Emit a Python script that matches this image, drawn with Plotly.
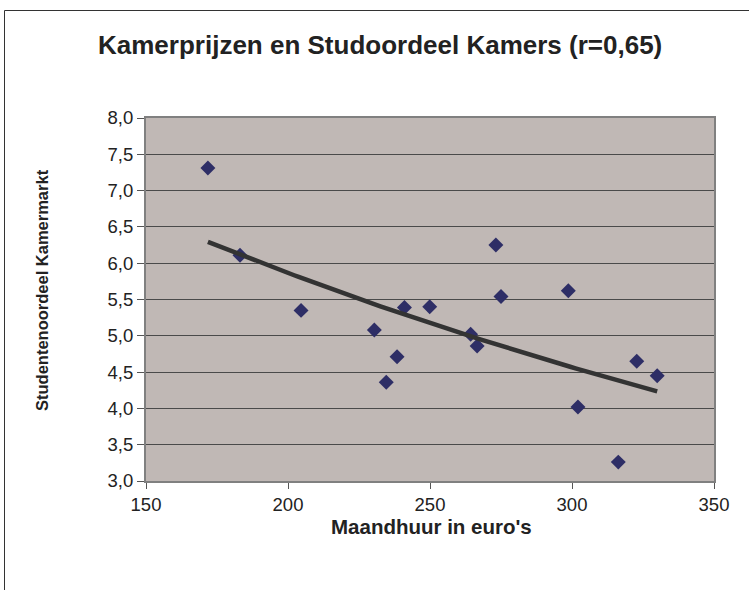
import numpy as np
import plotly.graph_objects as go

# Data
rent = [171.8, 183.1, 204.6, 230.4, 234.6, 238.4, 241.0, 249.9, 264.3, 266.6,
        273.2, 275.0, 298.7, 302.1, 316.3, 322.8, 330.0]
score = [7.31, 6.11, 5.35, 5.08, 4.36, 4.71, 5.39, 5.40, 5.02, 4.86,
         6.25, 5.54, 5.62, 4.02, 3.26, 4.65, 4.45]

title_text = "Kamerprijzen en Studoordeel Kamers (r=0,65)"
x_title = "Maandhuur in euro's"
y_title = "Studentenoordeel Kamermarkt"
x_ticks = [150, 200, 250, 300, 350]
y_ticks = [3.0, 3.5, 4.0, 4.5, 5.0, 5.5, 6.0, 6.5, 7.0, 7.5, 8.0]

# Exponential trendline (Excel-style: least squares on ln y)
xa = np.array(rent)
ya = np.array(score)
b, lna = np.polyfit(xa, np.log(ya), 1)
tx = np.linspace(xa.min(), xa.max(), 100)
ty = np.exp(lna + b * tx)

FONT = "Liberation Sans, Arial, sans-serif"
TXT = "#222222"

fig = go.Figure()
fig.add_trace(go.Scatter(
    x=rent, y=score, mode="markers",
    marker=dict(symbol="diamond", size=11.5, color="#2E2E66",
                line=dict(width=0)),
    showlegend=False, hoverinfo="skip"))
fig.add_trace(go.Scatter(
    x=tx, y=ty, mode="lines",
    line=dict(color="#333333", width=4.5),
    showlegend=False, hoverinfo="skip"))

W, H = 749, 590
L, R, T, B = 146, 35, 118, 109
pw = W - L - R
ph = H - T - B


def px_x(p):
    return (p - L) / pw


def px_y(p):
    return (H - B - p) / ph


fig.update_layout(
    width=W, height=H,
    margin=dict(l=L, r=R, t=T, b=B, pad=0),
    paper_bgcolor="white",
    plot_bgcolor="#C0B8B5",
    separators=",.",
    font=dict(family=FONT, size=18, color=TXT),
    xaxis=dict(
        range=[150, 350], tickvals=x_ticks, tickformat="d",
        ticks="outside", ticklen=6, tickcolor="#555555", tickwidth=1,
        showgrid=False, zeroline=False,
        showline=True, linecolor="#808080", linewidth=2, mirror=True,
        tickfont=dict(family=FONT, size=18.5, color=TXT),
    ),
    yaxis=dict(
        range=[3.0, 8.0], tickvals=y_ticks, tickformat=".1f",
        ticks="outside", ticklen=7, tickcolor="#555555", tickwidth=1,
        showgrid=True, gridcolor="#4A4A4A", gridwidth=1,
        zeroline=False,
        showline=True, linecolor="#808080", linewidth=2, mirror=True,
        tickfont=dict(family=FONT, size=18.5, color=TXT),
    ),
)

# Chart title and axis titles
fig.add_annotation(text="<b>" + title_text + "</b>", xref="paper", yref="paper",
                   x=px_x(380), y=px_y(45), xanchor="center", yanchor="middle",
                   showarrow=False, font=dict(family=FONT, size=26, color=TXT))
fig.add_annotation(text="<b>" + x_title + "</b>", xref="paper", yref="paper",
                   x=px_x(431), y=px_y(526), xanchor="center", yanchor="middle",
                   showarrow=False, font=dict(family=FONT, size=20.5, color=TXT))
fig.add_annotation(text="<b>" + y_title + "</b>", xref="paper", yref="paper",
                   x=px_x(42), y=px_y(290), xanchor="center", yanchor="middle",
                   textangle=-90, showarrow=False,
                   font=dict(family=FONT, size=16.5, color=TXT))

# Outer chart frame (extends past right and bottom edges as in the reference)
fig.add_shape(type="rect", xref="paper", yref="paper",
              x0=px_x(4.5), x1=px_x(W + 20),
              y0=px_y(H + 20), y1=px_y(10.5),
              line=dict(color="#333333", width=1), fillcolor="rgba(0,0,0,0)",
              layer="below")

fig.write_html("out.html",
               config={"displayModeBar": False},
               post_script="document.body.style.margin='0';"
                           "document.body.style.overflow='hidden';")
